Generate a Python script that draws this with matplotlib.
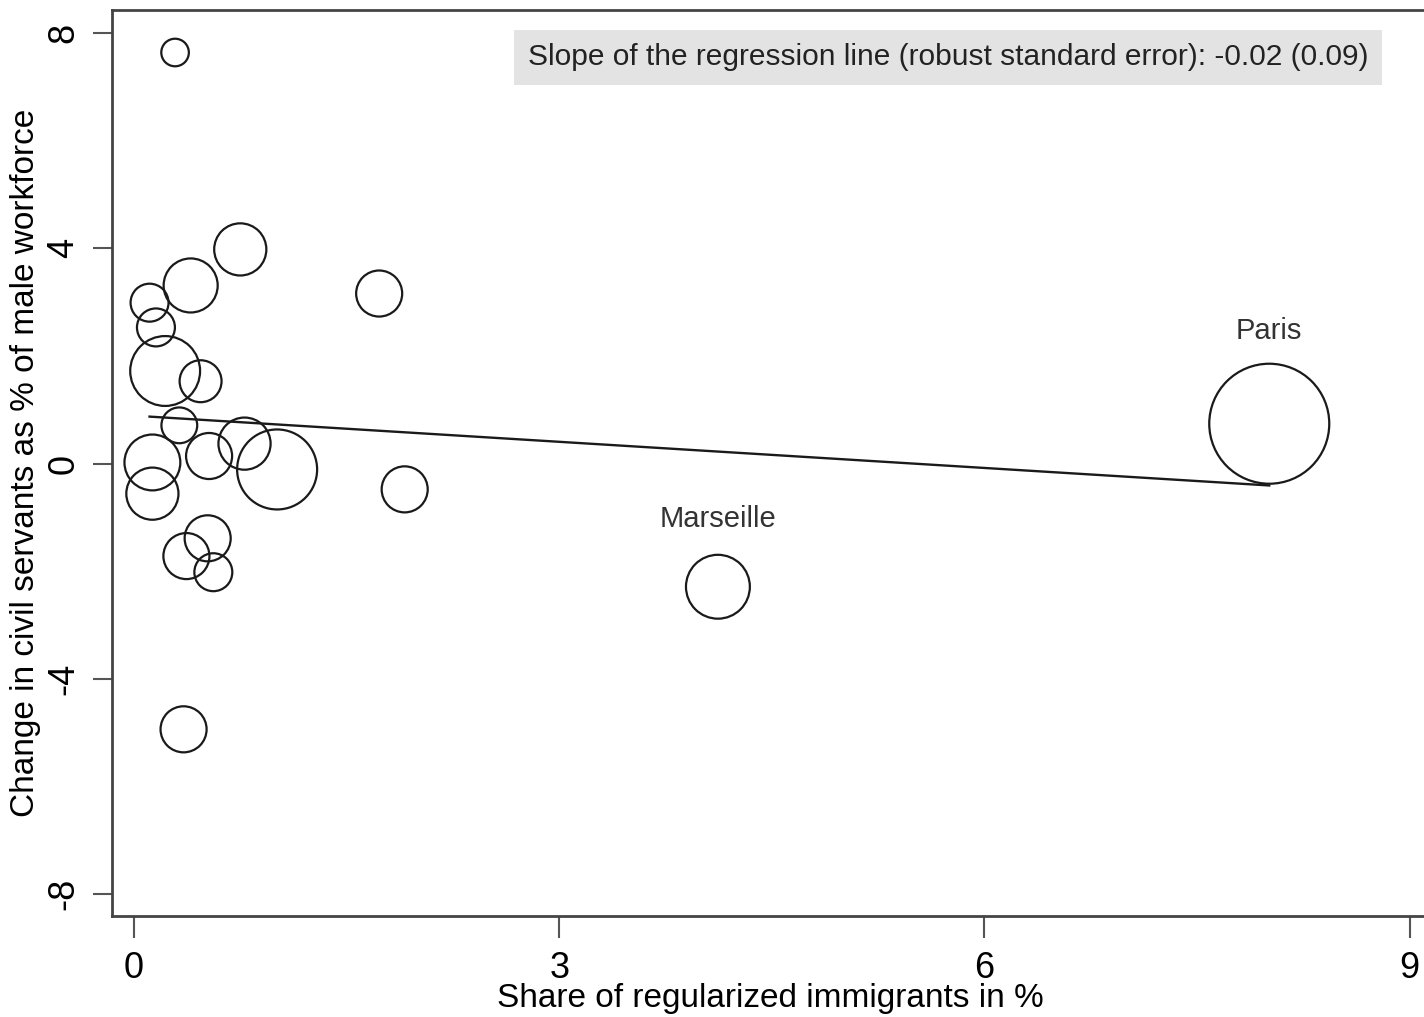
import matplotlib
matplotlib.use("Agg")
import matplotlib.pyplot as plt
import numpy as np

plt.rcParams['font.family'] = ['Liberation Sans', 'DejaVu Sans']

# Data
share_regularized = [0.29, 0.75, 0.40, 0.11, 0.155, 0.22, 0.47, 0.32, 0.13, 0.13,
                     0.53, 0.78, 1.01, 1.73, 1.91, 0.52, 0.37, 0.56, 0.35, 4.12, 8.01]
change_civil = [7.64, 3.98, 3.31, 2.99, 2.53, 1.72, 1.53, 0.71, 0.02, -0.56,
                0.14, 0.37, -0.11, 3.16, -0.48, -1.39, -1.72, -2.02, -4.94, -2.29, 0.74]
weights = [1.9, 6.8, 7.3, 3.6, 3.6, 12.2, 4.4, 3.2, 7.8, 6.8,
           5.3, 6.8, 16.0, 5.3, 5.3, 5.3, 5.3, 3.6, 5.3, 10.2, 36.0]
label_names = ["Paris", "Marseille"]
label_idx = [20, 19]
reg_intercept = 0.89
reg_slope = -0.162
slope_text = "Slope of the regression line (robust standard error): -0.02 (0.09)"
x_ticks = [0, 3, 6, 9]
y_ticks = [-8, -4, 0, 4, 8]

W, H, DPI = 1424, 1017, 100
fig = plt.figure(figsize=(W / DPI, H / DPI), dpi=DPI)
ax = fig.add_axes([112 / W, 1 - 916 / H, (W + 4 - 112) / W, (916 - 10) / H])

ax.set_xlim(-0.155, 9.13)
ax.set_ylim(-8.41, 8.43)

# marker size: weight*100 = radius^2 in px
r_px = np.sqrt(np.array(weights) * 100.0)
s = (2 * r_px * 72 / DPI) ** 2
ax.scatter(share_regularized, change_civil, s=s, facecolors='none',
           edgecolors='#1a1a1a', linewidths=1.6, zorder=3)

xr = np.array([min(share_regularized), max(share_regularized)])
ax.plot(xr, reg_intercept + reg_slope * xr, color='#1a1a1a', lw=1.7, zorder=2)

for name, i, gap in zip(label_names, label_idx, [33, 36]):
    r = r_px[i]
    ax.annotate(name, (share_regularized[i], change_civil[i]),
                xytext=(0, (r + gap) * 72 / DPI), textcoords='offset points',
                ha='center', va='center', fontsize=21, color='#333333')

ax.text(0.9545, 0.948, slope_text, transform=ax.transAxes, ha='right', va='center',
        fontsize=21.5, color='#222222',
        bbox=dict(boxstyle='square,pad=0.45', facecolor='#e3e3e3', edgecolor='none'))

ax.set_xticks(x_ticks)
ax.set_yticks(y_ticks)
ax.set_xticklabels([str(v) for v in x_ticks], fontsize=26)
ax.set_yticklabels([str(v) for v in y_ticks], fontsize=26, rotation=90, va='center')
ax.tick_params(axis='x', direction='out', length=16, width=1.5, color='#555555', pad=9)
ax.tick_params(axis='y', direction='out', length=14, width=1.5, color='#555555', pad=8)

for sp in ['left', 'bottom', 'top']:
    ax.spines[sp].set_linewidth(2.0)
    ax.spines[sp].set_color('#444444')
ax.spines['right'].set_visible(False)

ax.set_xlabel("Share of regularized immigrants in %", fontsize=24, labelpad=-2)
ax.set_ylabel("Change in civil servants as % of male workforce", fontsize=24, labelpad=4)

fig.savefig("out.png", dpi=DPI)
